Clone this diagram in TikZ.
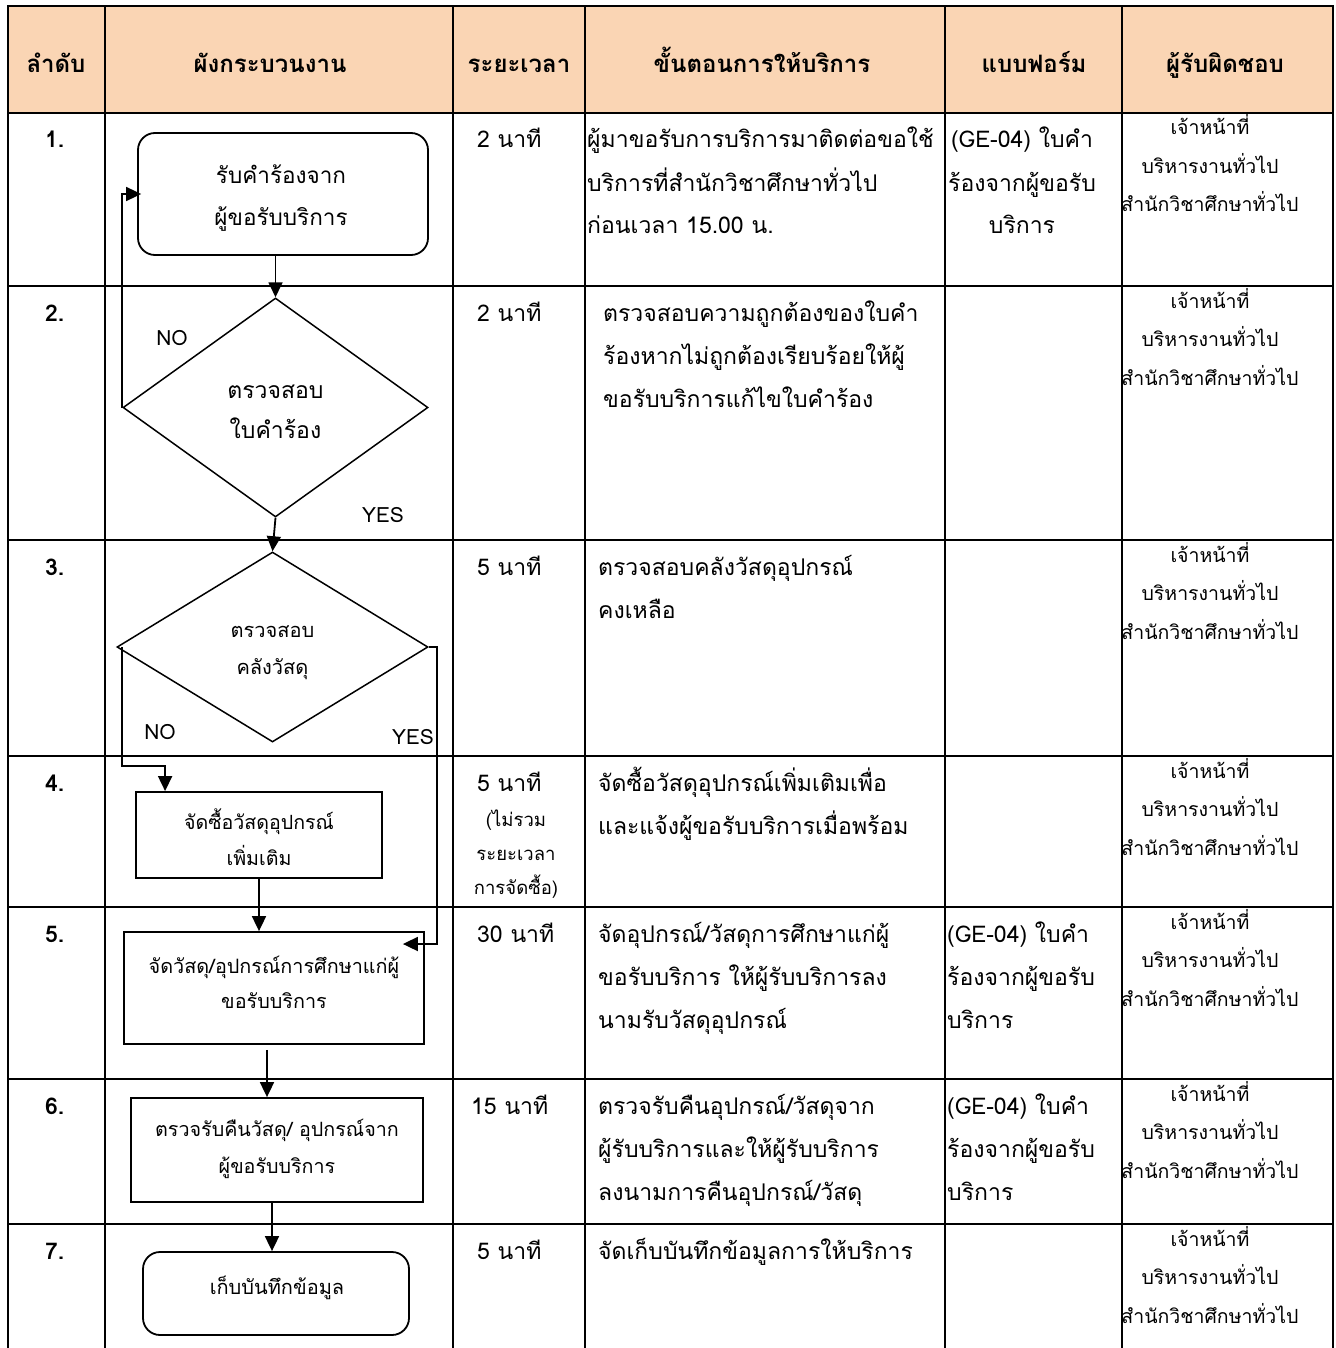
\documentclass[tikz,border=0pt]{standalone}
\usepackage{fontspec}
\setmainfont{Loma}[Script=Thai]
\usetikzlibrary{shapes.geometric,arrows.meta,calc}
\definecolor{hdr}{RGB}{250,213,180}
\newcommand\fbody{\fontsize{23}{43}\selectfont}
\newcommand\fsmall{\fontsize{19.5}{38.5}\selectfont}
\newcommand\fpar{\fontsize{18.5}{34}\selectfont}
\newcommand\fhead{\fontsize{24}{28}\selectfont\bfseries}
\begin{document}
\begin{tikzpicture}[x=1pt,y=-1pt,
  grid/.style={line width=2.6pt,line cap=rect},
  txt/.style={inner sep=0pt,anchor=base west,align=left,font=\fbody},
  ctxt/.style={inner sep=0pt,anchor=base,align=center,font=\fbody},
  resp/.style={inner sep=0pt,anchor=base,align=center,font=\fsmall},
  hd/.style={inner sep=0pt,anchor=base,font=\fhead},
  num/.style={inner sep=0pt,anchor=base west,font=\fontsize{23}{26}\selectfont\bfseries},
  rbox/.style={draw,line width=1.8pt,rounded corners=17pt,inner sep=0pt},
  sbox/.style={draw,line width=1.8pt,inner sep=0pt},
  dia/.style={draw,diamond,line width=1.5pt,inner sep=0pt},
  shtxt/.style={inner sep=0pt,align=center},
  arr/.style={line width=1.8pt,-{Triangle[length=15pt,width=14pt]}},
  lbl/.style={inner sep=0pt,font=\fontsize{21}{24}\selectfont}
]
\useasboundingbox (0,0) rectangle (1335,1348);
\fill[hdr] (8,6) rectangle (1333,113);
% grid
\foreach \y in {6,113,286,540,756,907,1079,1224}
  \draw[grid] (8,\y) -- (1333,\y);
\foreach \x in {8,105,453,585,945,1122,1333}
  \draw[grid] (\x,6) -- (\x,1348);
% header
\node[hd] (h1) at (56,73) {ลำดับ};
\node[hd] (h2) at (270,73) {ผังกระบวนงาน};
\node[hd] (h3) at (519,73) {ระยะเวลา};
\node[hd] (h4) at (762,73) {ขั้นตอนการให้บริการ};
\node[hd] (h5) at (1034,73) {แบบฟอร์ม};
\node[hd] (h6) at (1225,73) {ผู้รับผิดชอบ};
% numbers
\node[num] (n1) at (45,148) {1.};
\node[num] (n2) at (45,321) {2.};
\node[num] (n3) at (45,575) {3.};
\node[num] (n4) at (45,791) {4.};
\node[num] (n5) at (45,942) {5.};
\node[num] (n6) at (45,1114) {6.};
\node[num] (n7) at (45,1259) {7.};
% durations
\node[txt] (t1) at (477,148) {2 นาที};
\node[txt] (t2) at (477,321) {2 นาที};
\node[txt] (t3) at (477,575) {5 นาที};
\node[txt] (t4) at (477,791) {5 นาที};
\node[inner sep=0pt,anchor=base,align=center,font=\fpar] (t4b) at (516,894) {(ไม่รวม\\ระยะเวลา\\การจัดซื้อ)};
\node[txt] (t5) at (477,942) {30 นาที};
\node[txt] (t6) at (471,1114) {15 นาที};
\node[txt] (t7) at (477,1259) {5 นาที};
% steps (anchor = baseline of the last line)
\node[txt] (s1) at (587,234) {ผู้มาขอรับการบริการมาติดต่อขอใช้\\บริการที่สำนักวิชาศึกษาทั่วไป\\ก่อนเวลา 15.00 น.};
\node[txt] (s2) at (603,407) {ตรวจสอบความถูกต้องของใบคำ\\ร้องหากไม่ถูกต้องเรียบร้อยให้ผู้\\ขอรับบริการแก้ไขใบคำร้อง};
\node[txt] (s3) at (598,618) {ตรวจสอบคลังวัสดุอุปกรณ์\\คงเหลือ};
\node[txt] (s4) at (598,834) {จัดซื้อวัสดุอุปกรณ์เพิ่มเติมเพื่อ\\และแจ้งผู้ขอรับบริการเมื่อพร้อม};
\node[txt] (s5) at (598,1028) {จัดอุปกรณ์/วัสดุการศึกษาแก่ผู้\\ขอรับบริการ ให้ผู้รับบริการลง\\นามรับวัสดุอุปกรณ์};
\node[txt] (s6) at (598,1200) {ตรวจรับคืนอุปกรณ์/วัสดุจาก\\ผู้รับบริการและให้ผู้รับบริการ\\ลงนามการคืนอุปกรณ์/วัสดุ};
\node[txt] (s7) at (598,1259) {จัดเก็บบันทึกข้อมูลการให้บริการ};
% forms
\node[ctxt] (f1) at (1022,234) {(GE-04) ใบคำ\\ร้องจากผู้ขอรับ\\บริการ};
\node[txt] (f5) at (947,1028) {(GE-04) ใบคำ\\ร้องจากผู้ขอรับ\\บริการ};
\node[txt] (f6) at (947,1200) {(GE-04) ใบคำ\\ร้องจากผู้ขอรับ\\บริการ};
% responsible
\foreach \r/\y in {1/212,2/385,3/639,4/855,5/1006,6/1178,7/1323}
  \node[resp] (p\r) at (1210,\y) {เจ้าหน้าที่\\บริหารงานทั่วไป\\สำนักวิชาศึกษาทั่วไป};
% flowchart shapes
\node[rbox,minimum width=290pt,minimum height=122pt] (r1) at (283,194) {};
\node[dia,minimum width=305pt,minimum height=219pt] (d1) at (275.5,407.5) {};
\node[dia,minimum width=311pt,minimum height=190pt] (d2) at (272.5,647) {};
\node[sbox,minimum width=246pt,minimum height=86pt] (r4) at (259,835) {};
\node[sbox,minimum width=300pt,minimum height=112pt] (r5) at (274,988) {};
\node[sbox,minimum width=292pt,minimum height=104pt] (r6) at (277,1150) {};
\node[rbox,minimum width=266pt,minimum height=83pt] (r7) at (276,1293.5) {};
% flowchart texts
\node[shtxt,font=\fontsize{22.5}{42}\selectfont] (r1t) at (281,198) {รับคำร้องจาก\\ผู้ขอรับบริการ};
\node[shtxt,font=\fontsize{23}{40}\selectfont] (d1t) at (275.5,411.5) {ตรวจสอบ\\ใบคำร้อง};
\node[shtxt,font=\fontsize{20}{37}\selectfont] (d2t) at (272.5,653) {ตรวจสอบ\\คลังวัสดุ};
\node[shtxt,font=\fontsize{19.6}{36}\selectfont] (r4t) at (259,837) {จัดซื้อวัสดุอุปกรณ์\\เพิ่มเติม};
\node[shtxt,font=\fontsize{19.8}{35}\selectfont] (r5t) at (274,982.5) {จัดวัสดุ/อุปกรณ์การศึกษาแก่ผู้\\ขอรับบริการ};
\node[shtxt,font=\fontsize{19.7}{37}\selectfont] (r6t) at (277,1149) {ตรวจรับคืนวัสดุ/ อุปกรณ์จาก\\ผู้ขอรับบริการ};
\node[shtxt,font=\fontsize{20}{36}\selectfont] (r7t) at (277,1287.5) {เก็บบันทึกข้อมูล};
% labels
\node[lbl] (no1) at (172,338) {NO};
\node[lbl] (yes1) at (383,515) {YES};
\node[lbl] (no2) at (160,732) {NO};
\node[lbl] (yes2) at (413,737) {YES};
% connectors
\coordinate (nobend) at (122,766);
\coordinate (yesbend) at (437,944);
\draw[arr] (d1.north |- r1.south) -- (d1.north);
\draw[arr] (d1.west) |- ([xshift=4pt]r1.west);
\draw[arr] (d1.south) -- (d2.north);
\draw[arr] (d2.west -| nobend) -- (nobend) -| ([xshift=30pt]r4.north west);
\draw[arr] (d2.east) -| (yesbend) -- ([xshift=-22pt]r5.east |- yesbend);
\draw[arr] (r4.south) -- (r4.south |- r5.north);
\draw[arr] ([xshift=-7pt,yshift=-5pt]r5.south) -- ([xshift=-7pt]r5.south |- r6.north);
\draw[arr] ([xshift=-5pt]r6.south) -- ([xshift=-5pt]r6.south |- r7.north);
\end{tikzpicture}
\end{document}
